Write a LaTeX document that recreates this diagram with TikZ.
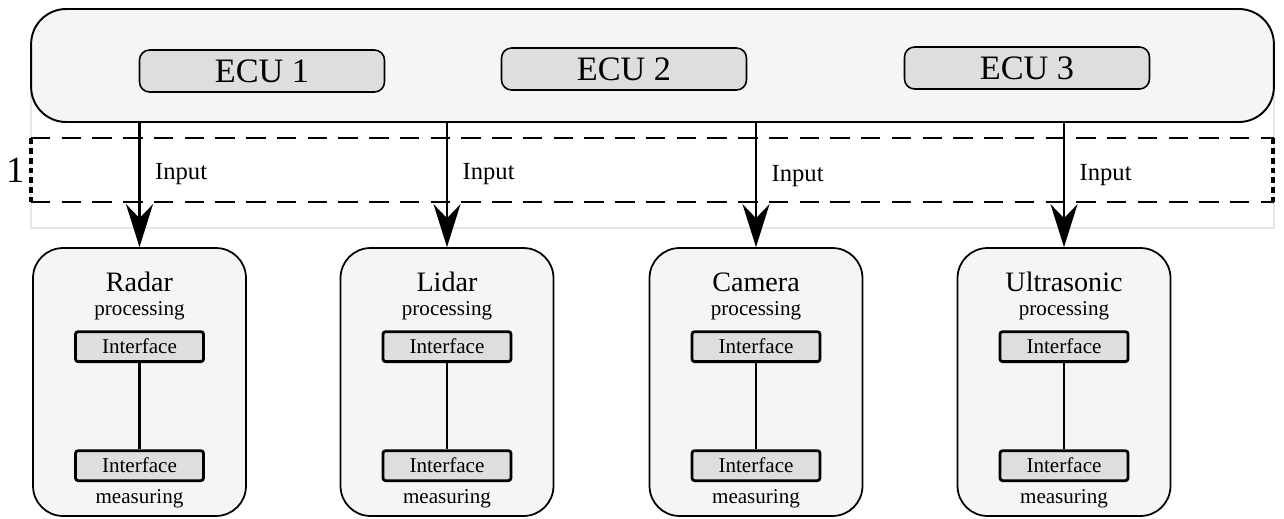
\documentclass[tikz,border=0pt]{standalone}
\usepackage{fontspec}
\setmainfont{Liberation Serif}
\usetikzlibrary{calc,arrows.meta}

\begin{document}
\begin{tikzpicture}[x=0.02cm,y=-0.02cm]
       \tikzstyle{outer} = [rectangle, draw, line width=1.1pt, rounded corners=0.7cm, fill=black!4];
       \tikzstyle{ecu} = [rectangle, draw, line width=0.9pt, rounded corners=0.2cm, fill=black!13,
                          minimum width=4.9cm, minimum height=0.84cm, font=\fontsize{19.5}{22}\selectfont];
       \tikzstyle{sensor} = [rectangle, draw, line width=1pt, rounded corners=0.6cm, fill=black!4,
                             minimum width=4.26cm, minimum height=5.36cm];
       \tikzstyle{iface} = [rectangle, draw, line width=1.6pt, rounded corners=1.5pt, fill=black!13,
                            minimum width=2.56cm, minimum height=0.6cm, font=\fontsize{12}{14}\selectfont];
       \tikzstyle{title} = [font=\fontsize{16}{18}\selectfont, inner sep=0pt];
       \tikzstyle{small} = [font=\fontsize{12}{14}\selectfont, inner sep=0pt];
       \tikzstyle{input} = [-{Stealth[length=0.86cm, width=0.54cm, inset=0.28cm]}, line width=1.2pt];
       \tikzstyle{link} = [line width=1.5pt];

       \useasboundingbox (0,0) rectangle (1284,518);

       % faint frame behind the ECU block
       \draw[black!10, line width=0.8pt] (31,60) rectangle (1274,228);

       \node[outer, minimum width=24.86cm, minimum height=2.26cm] (ecus) at (652.5,65.5) {};
       \node[ecu] (ecua) at (262,71) {ECU 1};
       \node[ecu] (ecub) at (624,69) {ECU 2};
       \node[ecu] (ecuc) at (1027,68) {ECU 3};

       % dashed group 1
       \draw[line width=0.9pt, dash pattern=on 11pt off 6.5pt] (31,138) -- (1274,138) (31,202) -- (1274,202);
       \draw[line width=2pt, dash pattern=on 3.4pt off 2.2pt] (31,138) -- (31,202) (1273,138) -- (1273,202);
       \node[anchor=east, inner sep=0pt, font=\fontsize{21}{24}\selectfont] (grp) at (25,170) {1};

       % sensors
       \node[sensor] (radar) at (139.5,382) {};
       \node[title] (radartitle) at ($(radar.north)+(0,35)$) {Radar};
       \node[small] (radarproc) at ($(radar.north)+(0,64)$) {processing};
       \node[iface] (radarup) at ($(radar.north)+(0,99.5)$) {Interface};
       \node[iface] (radardown) at ($(radar.north)+(0,218.5)$) {Interface};
       \node[small] (radarmeas) at ($(radar.north)+(0,252)$) {measuring};

       \node[sensor] (lidar) at (447,382) {};
       \node[title] (lidartitle) at ($(lidar.north)+(0,35)$) {Lidar};
       \node[small] (lidarproc) at ($(lidar.north)+(0,64)$) {processing};
       \node[iface] (lidarup) at ($(lidar.north)+(0,99.5)$) {Interface};
       \node[iface] (lidardown) at ($(lidar.north)+(0,218.5)$) {Interface};
       \node[small] (lidarmeas) at ($(lidar.north)+(0,252)$) {measuring};

       \node[sensor] (camera) at (756,382) {};
       \node[title] (cameratitle) at ($(camera.north)+(0,35)$) {Camera};
       \node[small] (cameraproc) at ($(camera.north)+(0,64)$) {processing};
       \node[iface] (cameraup) at ($(camera.north)+(0,99.5)$) {Interface};
       \node[iface] (cameradown) at ($(camera.north)+(0,218.5)$) {Interface};
       \node[small] (camerameas) at ($(camera.north)+(0,252)$) {measuring};

       \node[sensor] (ultra) at (1064,382) {};
       \node[title] (ultratitle) at ($(ultra.north)+(0,35)$) {Ultrasonic};
       \node[small] (ultraproc) at ($(ultra.north)+(0,64)$) {processing};
       \node[iface] (ultraup) at ($(ultra.north)+(0,99.5)$) {Interface};
       \node[iface] (ultradown) at ($(ultra.north)+(0,218.5)$) {Interface};
       \node[small] (ultrameas) at ($(ultra.north)+(0,252)$) {measuring};

       \draw[link] (radarup) -- (radardown);
       \draw[link] (lidarup) -- (lidardown);
       \draw[link] (cameraup) -- (cameradown);
       \draw[link] (ultraup) -- (ultradown);

       % inputs
       \draw[input] (ecus.south -| radar.north) -- node[pos=0.41, right, xshift=5pt, font=\fontsize{14}{16}\selectfont] {Input} (radar.north);
       \draw[input] (ecus.south -| lidar.north) -- node[pos=0.41, right, xshift=5pt, font=\fontsize{14}{16}\selectfont] {Input} (lidar.north);
       \draw[input] (ecus.south -| camera.north) -- node[pos=0.43, right, xshift=5pt, font=\fontsize{14}{16}\selectfont] {Input} (camera.north);
       \draw[input] (ecus.south -| ultra.north) -- node[pos=0.42, right, xshift=5pt, font=\fontsize{14}{16}\selectfont] {Input} (ultra.north);
\end{tikzpicture}
\end{document}
